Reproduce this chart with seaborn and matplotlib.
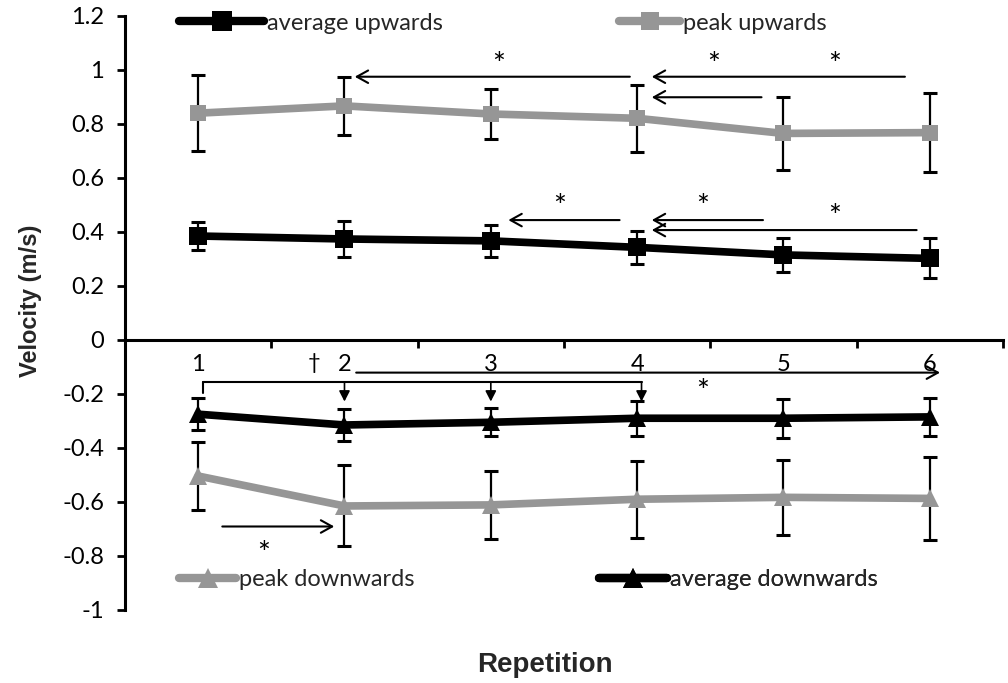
import matplotlib
matplotlib.use("Agg")
import matplotlib.pyplot as plt
import seaborn as sns
import numpy as np
import pandas as pd
from matplotlib.lines import Line2D

# ---------------- data ----------------
reps = [1, 2, 3, 4, 5, 6]
rep_labels = ["1", "2", "3", "4", "5", "6"]

avg_up = [0.385, 0.374, 0.367, 0.343, 0.315, 0.302]
avg_up_sd = [0.052, 0.067, 0.060, 0.060, 0.063, 0.074]
peak_up = [0.840, 0.867, 0.837, 0.821, 0.765, 0.768]
peak_up_sd = [0.140, 0.107, 0.092, 0.124, 0.135, 0.145]
avg_down = [-0.275, -0.315, -0.305, -0.290, -0.290, -0.285]
avg_down_sd = [0.060, 0.058, 0.052, 0.065, 0.072, 0.070]
peak_down = [-0.504, -0.615, -0.611, -0.590, -0.583, -0.587]
peak_down_sd = [0.126, 0.150, 0.127, 0.142, 0.138, 0.153]

yticks = [-1, -0.8, -0.6, -0.4, -0.2, 0, 0.2, 0.4, 0.6, 0.8, 1, 1.2]
ytick_labels = ["-1", "-0.8", "-0.6", "-0.4", "-0.2", "0", "0.2", "0.4", "0.6", "0.8", "1", "1.2"]

# significance annotations (tail x, head x, y)
horiz_arrows = [
    (3.95, 2.07, 0.975), (5.83, 4.10, 0.975), (4.85, 4.10, 0.899),
    (3.88, 3.12, 0.444), (4.86, 4.10, 0.444), (5.91, 4.10, 0.407),
    (2.08, 6.07, -0.121), (1.165, 1.93, -0.691),
]
stars = [(3.05, 1.04), (4.52, 1.04), (5.35, 1.04), (3.47, 0.512), (4.45, 0.512),
         (5.35, 0.475), (4.45, -0.173), (1.45, -0.774)]
dagger = (1.79, -0.085)
bracket_x = [1.03, 4.03]
bracket_y = -0.157
bracket_left_end = -0.196
bracket_arrow_x = [2.0, 3.0, 4.03]
bracket_arrow_end = -0.228

BLACK = "#000000"
GREY = "#969696"

# ---------------- figure ----------------
sns.set_theme(style="white")
plt.rcParams["font.family"] = ["Lato", "DejaVu Sans"]

fig = plt.figure(figsize=(10.08, 6.83), dpi=100)
ax = fig.add_axes([0.124, 0.107, 0.871, 0.8696])

# spine placement first (it resets tick settings)
for s in ["top", "right"]:
    ax.spines[s].set_visible(False)
ax.spines["bottom"].set_position(("data", 0))
for s in ["left", "bottom"]:
    ax.spines[s].set_color("black")
    ax.spines[s].set_linewidth(2.2)

series = [
    (peak_up, peak_up_sd, GREY, "s", 12),
    (avg_up, avg_up_sd, BLACK, "s", 13),
    (peak_down, peak_down_sd, GREY, "^", 13),
    (avg_down, avg_down_sd, BLACK, "^", 13),
]
for vals, sd, col, mk, ms in series:
    ax.errorbar(reps, vals, yerr=sd, fmt="none", ecolor="black", elinewidth=1.6,
                capsize=5, capthick=2.2, zorder=2)
    sns.lineplot(x=reps, y=vals, color=col, lw=5.5, marker=mk, markersize=ms,
                 markeredgecolor=col, markeredgewidth=0, ax=ax, zorder=3)

ax.set_xlim(0.5, 6.5)
ax.set_ylim(-1, 1.2)
ax.set_yticks(yticks)
ax.set_yticklabels(ytick_labels)
ax.set_xticks(reps)
ax.set_xticklabels(rep_labels)
ax.set_xticks([1.5, 2.5, 3.5, 4.5, 5.5, 6.5], minor=True)
ax.tick_params(axis="x", which="major", length=0, pad=10, colors="black", labelsize=17)
ax.tick_params(axis="x", which="minor", length=6, width=2, direction="out", colors="black", bottom=True)
ax.tick_params(axis="y", which="major", length=6, width=2, direction="out", colors="black",
               left=True, pad=9, labelsize=17)
ax.grid(False)
ax.set_xlabel("")
ax.set_ylabel("")

fig.text(0.541, 0.026, "Repetition", ha="center", va="center", fontsize=20,
         fontweight="bold", family=["Liberation Sans", "DejaVu Sans"])
fig.text(0.030, 0.56, "Velocity (m/s)", ha="center", va="center", rotation=90,
         fontsize=17, fontweight="bold", family=["Liberation Sans", "DejaVu Sans"])

# annotations
arrow_kw = dict(arrowstyle="->,head_length=0.45,head_width=0.25", color="black",
                lw=1.5, shrinkA=0, shrinkB=0, mutation_scale=18)
for tx, hx, y in horiz_arrows:
    ax.annotate("", xy=(hx, y), xytext=(tx, y), arrowprops=arrow_kw)
for x, y in stars:
    ax.annotate("*", xy=(x, y), xytext=(0, -4), textcoords="offset points",
                ha="center", va="center", fontsize=22, color="black")
ax.text(dagger[0], dagger[1], "\u2020", ha="center", va="center", fontsize=16, color="black")
ax.plot(bracket_x, [bracket_y, bracket_y], color="black", lw=1.5)
ax.plot([bracket_x[0], bracket_x[0]], [bracket_y, bracket_left_end], color="black", lw=1.5)
small_kw = dict(arrowstyle="-|>,head_length=0.35,head_width=0.18", color="black",
                lw=1.2, shrinkA=0, shrinkB=0, mutation_scale=18)
for bx in bracket_arrow_x:
    ax.annotate("", xy=(bx, bracket_arrow_end), xytext=(bx, bracket_y), arrowprops=small_kw)

# legends
def add_legend(label, col, mk, ms, x, y, hl):
    h = Line2D([0], [0], color=col, lw=6, marker=mk, markersize=ms, markeredgewidth=0)
    lg = ax.legend([h], [label], loc="center left", bbox_to_anchor=(x, y),
                   bbox_transform=fig.transFigure, frameon=False, fontsize=17,
                   handlelength=hl, handletextpad=0.12, borderpad=0, borderaxespad=0,
                   numpoints=1)
    ax.add_artist(lg)

add_legend("average upwards", BLACK, "s", 14, 0.178, 0.966, 3.6)
add_legend("peak upwards", GREY, "s", 13, 0.614, 0.966, 2.6)
add_legend("peak downwards", GREY, "^", 14, 0.178, 0.151, 2.4)
add_legend("average downwards", BLACK, "^", 14, 0.594, 0.151, 2.9)

fig.savefig("out.png", dpi=100)
